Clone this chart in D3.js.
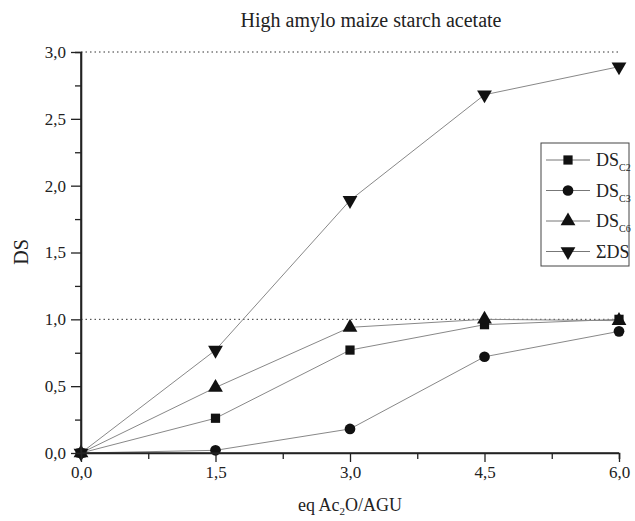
<!DOCTYPE html>
<html>
<head>
<meta charset="utf-8">
<script src="https://cdn.jsdelivr.net/npm/d3@7"></script>
<style>
  body{margin:0;background:#fff;}
  text{font-family:"Liberation Serif","Times New Roman",serif;fill:#222;}
</style>
</head>
<body>
<script>
// data
var eqAc2O=[0,1.5,3,4.5,6];
var dsC2=[0,0.26,0.77,0.96,1.0];
var dsC3=[0,0.02,0.18,0.72,0.91];
var dsC6=[0,0.49,0.94,1.0,0.99];
var dsSum=[0,0.77,1.89,2.68,2.89];
var xTicks=[0,1.5,3,4.5,6];
var yTicks=[0,0.5,1,1.5,2,2.5,3];
var refLines=[1,3];

var seriesNames=["C2","C3","C6","sum"];
var seriesValues=[dsC2,dsC3,dsC6,dsSum];
var symbols=[d3.symbolSquare,d3.symbolCircle,d3.symbolTriangle,d3.symbolTriangle];
var symSize=[85,90,95,95];

var screen={width:635,height:521};
var svg=d3.select("body").append("svg")
          .attr("width",screen.width)
          .attr("height",screen.height);

var xScale=d3.scaleLinear().domain([0,6]).range([81,619]);
var yScale=d3.scaleLinear().domain([0,3]).range([453,52]);
var fmt=function(d){return d3.format(".1f")(d).replace(".",",");};

// dotted reference lines
svg.selectAll("line.ref")
   .data(refLines)
   .enter()
   .append("line")
   .classed("ref",true)
   .attr("x1",xScale(0))
   .attr("x2",xScale(6))
   .attr("y1",function(d){return yScale(d);})
   .attr("y2",function(d){return yScale(d);})
   .attr("stroke","#333")
   .attr("stroke-width",1)
   .attr("stroke-dasharray","1.5,3");

// series lines + markers
var line=d3.line()
           .x(function(d,i){return xScale(eqAc2O[i]);})
           .y(function(d){return yScale(d);});

var series=svg.selectAll("g.series")
              .data(seriesValues)
              .enter()
              .append("g")
              .classed("series",true);

series.append("path")
      .attr("d",function(d){return line(d);})
      .attr("fill","none")
      .attr("stroke","#888")
      .attr("stroke-width",1);

series.each(function(vals,k){
  d3.select(this).selectAll("path.mark")
    .data(vals)
    .enter()
    .append("path")
    .classed("mark",true)
    .attr("d",d3.symbol().type(symbols[k]).size(symSize[k]))
    .attr("transform",function(d,i){
      return "translate("+xScale(eqAc2O[i])+","+yScale(d)+")"+(k==3?" rotate(180)":"");})
    .attr("fill","#111");
});

// axes
var xAxis=d3.axisBottom(xScale).tickValues(xTicks).tickFormat(fmt).tickSize(9).tickPadding(4);
var xMinor=d3.axisBottom(xScale).tickValues([0.75,2.25,3.75,5.25]).tickFormat("").tickSize(6);
var yAxis=d3.axisLeft(yScale).tickValues(yTicks).tickFormat(fmt).tickSize(10).tickPadding(5);
var yMinor=d3.axisLeft(yScale).tickValues([0.25,0.75,1.25,1.75,2.25,2.75]).tickFormat("").tickSize(6);

var gx=svg.append("g").attr("transform","translate(0,453)").call(xAxis);
svg.append("g").attr("transform","translate(0,453)").call(xMinor);
var gy=svg.append("g").attr("transform","translate(81,0)").call(yAxis);
svg.append("g").attr("transform","translate(81,0)").call(yMinor);

gx.attr("font-family","Liberation Serif").attr("font-size",17);
gy.attr("font-family","Liberation Serif").attr("font-size",17);
svg.selectAll(".domain").attr("stroke","#222").attr("stroke-width",1.6);
svg.selectAll(".tick line").attr("stroke","#222").attr("stroke-width",1.3);
svg.selectAll(".tick text")
   .attr("font-family","Liberation Serif")
   .style("font-family","'Liberation Serif', serif")
   .style("font-size","17px")
   .attr("fill","#333");
gx.selectAll(".domain").attr("d","M81,0H619");
gy.selectAll(".domain").attr("d","M0,453V52");

// titles
svg.append("text")
   .attr("x",371).attr("y",27)
   .attr("text-anchor","middle")
   .style("font-size","20px")
   .text("High amylo maize starch acetate");

var xt=svg.append("text")
   .attr("x",350).attr("y",511)
   .attr("text-anchor","middle")
   .style("font-size","18px");
xt.append("tspan").text("eq Ac");
xt.append("tspan").attr("dy",4).style("font-size","11px").text("2");
xt.append("tspan").attr("dy",-4).text("O/AGU");

svg.append("text")
   .attr("transform","translate(28,252) rotate(-90)")
   .attr("text-anchor","middle")
   .style("font-size","20px")
   .text("DS");

// legend
var legend=svg.append("g").classed("legend",true);
legend.append("rect")
      .attr("x",541).attr("y",143)
      .attr("width",88).attr("height",123)
      .attr("fill","#fff")
      .attr("stroke","#444")
      .attr("stroke-width",1);

var legendLines=legend.selectAll("g.legendLine")
                      .data(seriesNames)
                      .enter()
                      .append("g")
                      .classed("legendLine",true)
                      .attr("transform",function(d,i){return "translate(0,"+(160+i*30.5)+")";});

legendLines.append("line")
           .attr("x1",546).attr("x2",590)
           .attr("y1",0).attr("y2",0)
           .attr("stroke","#777").attr("stroke-width",1);

legendLines.append("path")
           .attr("d",function(d,i){return d3.symbol().type(symbols[i]).size(symSize[i])();})
           .attr("transform",function(d,i){return "translate(568,0)"+(i==3?" rotate(180)":"");})
           .attr("fill","#111");

legendLines.each(function(d){
  var t=d3.select(this).append("text")
          .attr("x",596).attr("y",6)
          .style("font-size","18px");
  if(d=="sum"){
    t.text("\u03A3DS");
  } else {
    t.append("tspan").text("DS");
    t.append("tspan").attr("dy",5).style("font-size","10px").text(d);
  }
});
</script>
</body>
</html>
